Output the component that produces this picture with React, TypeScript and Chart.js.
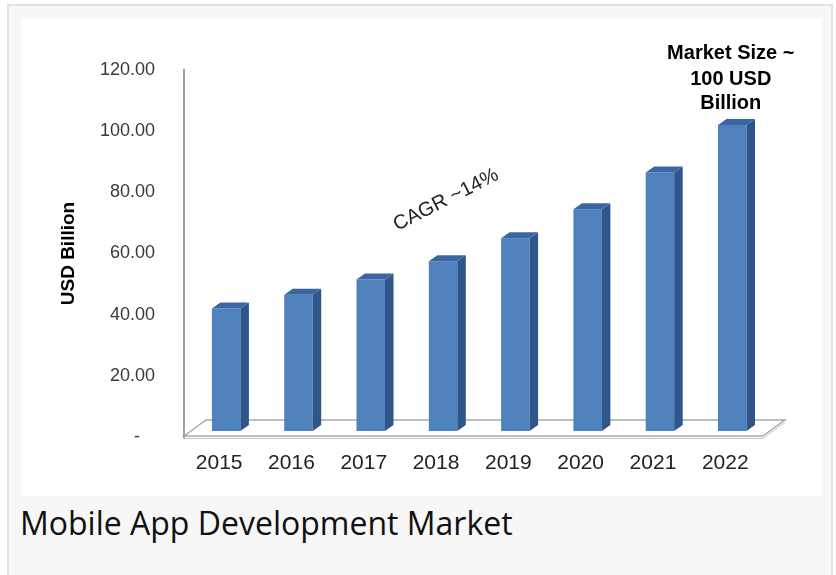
import React, { useEffect, useRef } from 'react';
import { Chart, registerables } from 'chart.js';

Chart.register(...registerables);

// ---- data ----
const years: string[] = ['2015', '2016', '2017', '2018', '2019', '2020', '2021', '2022'];
const marketSize: number[] = [40, 44.5, 49.5, 55.5, 63, 72.5, 84.5, 100];
const yMin = 0;
const yMax = 120;
const yStep = 20;
const axisTitle = 'USD Billion';
const cagrNote = 'CAGR ~14%';
const sizeNote: string[] = ['Market Size ~', '100 USD', 'Billion'];
const caption = 'Mobile App Development Market';

const FONT = '"Liberation Sans", Arial, sans-serif';

const CANVAS_W = 801;
const CANVAS_H = 478;

const excel3d = {
  id: 'excel3d',
  beforeDatasetsDraw(chart: any) {
    const { ctx, chartArea, scales } = chart;
    const { left, right, bottom } = chartArea;
    const top = scales.y.getPixelForValue(yMax);
    const fx = -6, fy = 5; // front edge offset from bar plane
    const dX = 22, dY = -16; // floor depth
    ctx.save();
    // floor
    ctx.strokeStyle = '#a9a9a9';
    ctx.lineWidth = 1.5;
    ctx.beginPath();
    ctx.moveTo(left + fx, bottom + fy);
    ctx.lineTo(left + fx + dX, bottom + fy + dY);
    ctx.lineTo(right + fx + dX + 0.4, bottom + fy + dY);
    ctx.lineTo(right + fx + 0.4, bottom + fy);
    ctx.closePath();
    ctx.stroke();
    ctx.strokeStyle = '#c4c4c4';
    ctx.lineWidth = 1;
    ctx.beginPath();
    ctx.moveTo(left + fx, bottom + fy + 2.5);
    ctx.lineTo(right + fx + 0.4, bottom + fy + 2.5);
    ctx.lineTo(right + fx + dX + 0.4, bottom + fy + dY + 2.5);
    ctx.stroke();
    // vertical axis line
    ctx.strokeStyle = '#a0a0a0';
    ctx.lineWidth = 2;
    ctx.beginPath();
    ctx.moveTo(left + fx, top + 5);
    ctx.lineTo(left + fx, bottom + fy + 2.5);
    ctx.stroke();
    ctx.restore();
  },
  afterDatasetsDraw(chart: any) {
    const { ctx, scales } = chart;
    const meta = chart.getDatasetMeta(0);
    const dx = 8.5, dy = -6;
    ctx.save();
    meta.data.forEach((bar: any) => {
      const { x, y, base, width } = bar.getProps(['x', 'y', 'base', 'width'], true);
      const l = x - width / 2;
      const r = x + width / 2;
      // side face
      ctx.fillStyle = '#2f5589';
      ctx.beginPath();
      ctx.moveTo(r, y);
      ctx.lineTo(r + dx, y + dy);
      ctx.lineTo(r + dx, base + dy);
      ctx.lineTo(r, base);
      ctx.closePath();
      ctx.fill();
      // top face
      ctx.fillStyle = '#3b66a3';
      ctx.beginPath();
      ctx.moveTo(l, y);
      ctx.lineTo(l + dx, y + dy);
      ctx.lineTo(r + dx, y + dy);
      ctx.lineTo(r, y);
      ctx.closePath();
      ctx.fill();
    });

    // annotation above last bar
    const last = meta.data[meta.data.length - 1];
    const lp = last.getProps(['x', 'y'], true);
    ctx.fillStyle = '#000';
    ctx.font = `bold 20px ${FONT}`;
    ctx.textAlign = 'center';
    ctx.textBaseline = 'middle';
    const offs = [-72, -46, -22];
    sizeNote.forEach((t, i) => ctx.fillText(t, lp.x - 1.5, lp.y + offs[i]));

    // CAGR note
    const cx = scales.x.getPixelForValue(3) + 3;
    const cy = scales.y.getPixelForValue(75.5);
    ctx.save();
    ctx.translate(cx, cy);
    ctx.rotate((-27 * Math.PI) / 180);
    ctx.font = `20px ${FONT}`;
    ctx.fillStyle = '#222';
    ctx.fillText(cagrNote, 0, 0);
    ctx.restore();

    // axis title
    ctx.save();
    ctx.translate(48, scales.y.getPixelForValue(58));
    ctx.rotate(-Math.PI / 2);
    ctx.font = `bold 19px ${FONT}`;
    ctx.fillStyle = '#000';
    ctx.fillText(axisTitle, 0, 0);
    ctx.restore();

    ctx.restore();
  },
};

export default function App() {
  const ref = useRef<HTMLCanvasElement | null>(null);

  useEffect(() => {
    document.body.style.margin = '0';
    if (!ref.current) return;
    const chart = new Chart(ref.current, {
      type: 'bar',
      data: {
        labels: years,
        datasets: [
          {
            data: marketSize,
            backgroundColor: '#4f81bd',
            borderWidth: 0,
            categoryPercentage: 1,
            barPercentage: 0.394,
          },
        ],
      },
      options: {
        responsive: false,
        maintainAspectRatio: false,
        animation: false,
        layout: { padding: { left: 0, top: 44, right: 53.6, bottom: 0 } },
        plugins: {
          legend: { display: false },
          tooltip: { enabled: false },
          title: { display: false },
        },
        scales: {
          x: {
            grid: { display: false, drawTicks: false },
            border: { display: false },
            ticks: {
              font: { family: FONT, size: 21 },
              color: '#222',
              padding: 20,
              labelOffset: -7,
              maxRotation: 0,
              autoSkip: false,
            },
            afterFit: (s: any) => {
              s.height = 65;
            },
          },
          y: {
            min: yMin,
            max: yMax,
            grid: { display: false, drawTicks: false },
            border: { display: false },
            ticks: {
              stepSize: yStep,
              font: { family: FONT, size: 18 },
              color: '#3a3a3a',
              padding: 35,
              labelOffset: 6,
              callback: (v: any) => (Number(v) === 0 ? '-   ' : Number(v).toFixed(2)),
            },
            afterFit: (s: any) => {
              s.width = 169;
            },
          },
        },
      },
      plugins: [excel3d],
    });
    return () => chart.destroy();
  }, []);

  return (
    <div style={{ position: 'fixed', left: 0, top: 0, width: 836, height: 575, background: '#fff', overflow: 'hidden' }}>
      <div
        style={{
          position: 'absolute',
          left: 7,
          top: 4,
          width: 826,
          height: 620,
          boxSizing: 'border-box',
          border: '2px solid #e2e2e2',
          background: '#f7f7f7',
        }}
      />
      <div style={{ position: 'absolute', left: 21, top: 18, width: CANVAS_W, height: CANVAS_H, background: '#fff' }}>
        <canvas ref={ref} width={CANVAS_W} height={CANVAS_H} style={{ display: 'block' }} />
      </div>
      <div
        style={{
          position: 'absolute',
          left: 20,
          top: 503,
          fontFamily: '"Open Sans", sans-serif',
          fontSize: 32,
          lineHeight: '40px',
          color: '#111',
          whiteSpace: 'nowrap',
        }}
      >
        {caption}
      </div>
    </div>
  );
}
